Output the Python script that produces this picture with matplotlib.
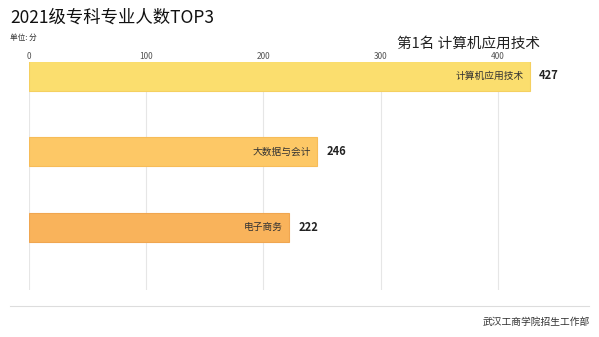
import matplotlib.pyplot as plt

plt.rcParams['font.family'] = ['Noto Sans CJK SC', 'DejaVu Sans']

majors = ['计算机应用技术', '大数据与会计', '电子商务']
counts = [427, 246, 222]
colors = ['#FBDE6E', '#FDC866', '#F9B35B']
edges = ['#F5D060', '#F7BC58', '#F0A650']

fig = plt.figure(figsize=(5.99, 3.37), dpi=100)
W, H = 599, 337

# axes: x=0 at 28.5px, 1 unit = 1.174px; top at 62px, bottom at 290px
x0, xr = 28.5, 1.174
xmax = 480
ax = fig.add_axes([x0 / W, 1 - 290 / H, xmax * xr / W, (290 - 62) / H])

ypos = list(range(len(majors)))
ax.barh(ypos, counts, height=0.385, color=colors, edgecolor=edges, linewidth=0.8, zorder=2)
for y, v, name in zip(ypos, counts, majors):
    ax.text(v - 5, y, name, ha='right', va='center', fontsize=7, color='#333333', zorder=3)
    ax.text(v + 8, y, str(v), ha='left', va='center', fontsize=8, color='#222222',
            fontweight='bold', zorder=3)

ax.set_xlim(0, xmax)
ax.set_ylim(2.83, -0.185)
ax.set_xticks([0, 100, 200, 300, 400])
ax.xaxis.tick_top()
ax.tick_params(axis='x', length=0, labelsize=6, labelcolor='#555555', pad=0.5)
ax.set_yticks([])
ax.grid(axis='x', color='#e6e6e6', linewidth=0.8, zorder=0)
for s in ax.spines.values():
    s.set_visible(False)

fig.text(10 / W, 1 - 18 / H, '2021级专科专业人数TOP3', fontsize=12.5, va='center', color='#111111')
fig.text(10 / W, 1 - 38 / H, '单位: 分', fontsize=5.5, va='center', color='#333333')
fig.text(540 / W, 1 - 44 / H, '第1名 计算机应用技术', fontsize=10.5, ha='right', va='center', color='#222222')

fig.add_artist(plt.Line2D([10 / W, 589 / W], [1 - 306 / H, 1 - 306 / H], color='#dddddd', linewidth=0.8))
fig.text(590 / W, 1 - 322 / H, '武汉工商学院招生工作部', fontsize=7, ha='right', va='center', color='#333333')

fig.savefig('out.png', dpi=100)
